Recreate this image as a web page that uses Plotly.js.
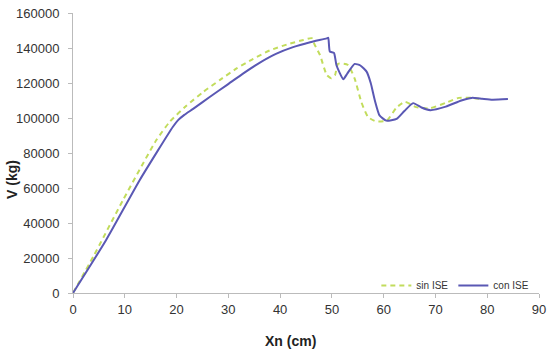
<!DOCTYPE html>
<html>
<head>
<meta charset="utf-8">
<script src="https://cdn.plot.ly/plotly-3.0.1.min.js"></script>
<style>html,body{margin:0;padding:0;background:#fff;}#chart{width:547px;height:356px;}</style>
</head>
<body>
<div id="chart"></div>
<script>
const sinX = [0,3.9,9.65,16.1,18.7,21.9,25.2,28.4,31.6,34.8,38,41.3,44.5,46.1,46.7,47.7,49.0,49.9,50.6,51.2,53.1,54.4,55.7,57,58.6,60.6,62.5,64.1,66.3,68.9,72.1,74.5,77,79];
const sinY = [0,20700,53100,87400,97900,107000,115000,121800,128300,133800,138600,142000,144600,145600,141700,136000,124600,122700,124500,131000,130300,122500,109000,100500,98000,98500,106000,109300,106200,105500,108800,111500,111500,110800];
const conX = [0,6.4,12.9,19.3,20.3,21.5,23.2,26.4,29.7,32.9,36.1,39.3,42.5,45.8,49.0,49.3,49.6,50.4,50.9,52.2,53,54.4,55.5,56.7,57.5,58.3,59.2,60.5,62.5,64,65.7,67.3,69,72,75,77,79,81,84];
const conY = [0,30300,64600,95000,98800,101800,105200,112000,118800,125500,131700,136800,140500,143300,145500,145800,138000,137200,130000,122200,125500,130900,130000,126500,120000,110000,101500,98500,99500,104000,108500,106000,104500,106500,110000,111500,111000,110500,110800];
const xTicks = [0,10,20,30,40,50,60,70,80,90];
const yTicks = [0,20000,40000,60000,80000,100000,120000,140000,160000];
const seriesNames = ['sin ISE','con ISE'];

const traces = [
  {x: sinX, y: sinY, name: seriesNames[0], mode: 'lines', type: 'scatter',
   line: {color: '#c2dc5c', width: 2, dash: '5px,4px', shape: 'spline', smoothing: 0.5}},
  {x: conX, y: conY, name: seriesNames[1], mode: 'lines', type: 'scatter',
   line: {color: '#5a58b4', width: 2, shape: 'spline', smoothing: 0.5}}
];

const axisFont = {family: 'Liberation Sans, Arial, sans-serif', size: 13, color: '#333'};
const layout = {
  width: 547, height: 356,
  margin: {l: 73, r: 8, t: 13, b: 63},
  paper_bgcolor: '#fff', plot_bgcolor: '#fff',
  showlegend: true,
  legend: {orientation: 'h', x: 0.99, xanchor: 'right', y: -0.025, yanchor: 'bottom',
           font: {family: 'Liberation Sans, Arial, sans-serif', size: 10, color: '#333'},
           itemwidth: 30, tracegroupgap: 0, bgcolor: 'rgba(0,0,0,0)'},
  xaxis: {range: [0, 90], tickvals: xTicks, tickformat: 'd', showgrid: false, zeroline: false,
          showline: true, linecolor: '#bbb', linewidth: 1, ticks: 'outside', ticklen: 4, tickcolor: '#bbb',
          tickfont: axisFont, fixedrange: true},
  yaxis: {range: [0, 160000], tickvals: yTicks, tickformat: 'd', showgrid: false, zeroline: false,
          showline: true, linecolor: '#bbb', linewidth: 1, ticks: 'outside', ticklen: 4, tickcolor: '#bbb',
          tickfont: axisFont, ticklabelstandoff: 6, fixedrange: true},
  annotations: [
    {text: '<b>Xn (cm)</b>', xref: 'paper', yref: 'paper', x: (290-73)/466, y: -(341-293)/280,
     xanchor: 'center', yanchor: 'middle', showarrow: false,
     font: {family: 'Liberation Sans, Arial, sans-serif', size: 14, color: '#222'}},
    {text: '<b>V (kg)</b>', xref: 'paper', yref: 'paper', x: -(73-12)/466, y: (293-179)/280,
     xanchor: 'center', yanchor: 'middle', textangle: -90, showarrow: false,
     font: {family: 'Liberation Sans, Arial, sans-serif', size: 14, color: '#222'}}
  ]
};
Plotly.newPlot('chart', traces, layout, {displayModeBar: false, staticPlot: true});
</script>
</body>
</html>
